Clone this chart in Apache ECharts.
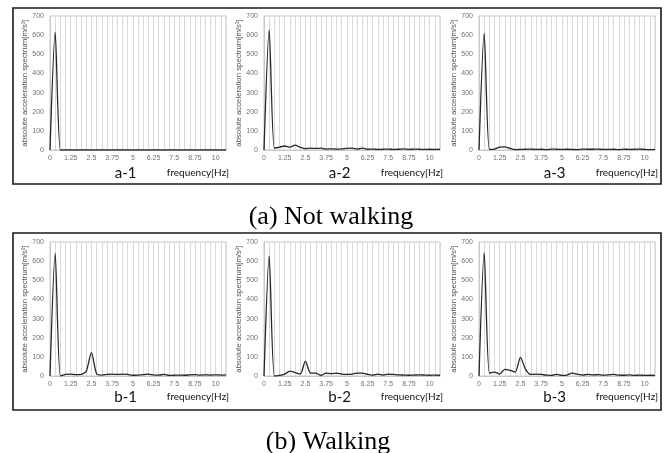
<!DOCTYPE html>
<html>
<head>
<meta charset="utf-8">
<script src="https://cdn.jsdelivr.net/npm/echarts@6/dist/echarts.min.js"></script>
<style>
  html, body { margin: 0; padding: 0; background: #fff; }
  #plot { width: 669px; height: 453px; }
</style>
</head>
<body>
<div id="plot"></div>
<script>
const freqs = [
  "0", "0.3125", "0.625", "0.9375", "1.25", "1.5625", "1.875", "2.1875", "2.5",
  "2.8125", "3.125", "3.4375", "3.75", "4.0625", "4.375", "4.6875", "5",
  "5.3125", "5.625", "5.9375", "6.25", "6.5625", "6.875", "7.1875", "7.5",
  "7.8125", "8.125", "8.4375", "8.75", "9.0625", "9.375", "9.6875", "10",
  "10.3125", "10.625",
];

// not walking
const a1 = [0, 615, 0, 0, 0, 0, 0, 0, 0, 0, 0, 0, 0, 0, 0, 0, 0, 0, 0, 0, 0, 0, 0, 0, 0, 0, 0, 0, 0, 0, 0, 0, 0, 0, 0];
const a2 = [0, 628, 9, 15, 21, 15, 25, 14, 7, 10, 8, 10, 5, 6, 5, 6, 9, 10, 5, 10, 4, 5, 3, 4, 5, 3, 4, 6, 3, 5, 4, 3, 4, 3, 4];
const a3 = [0, 610, 3, 5, 15, 16, 8, 2, 3, 4, 5, 3, 4, 2, 5, 4, 3, 4, 3, 2, 5, 4, 4, 5, 3, 3, 4, 2, 5, 3, 4, 5, 3, 2, 3];

// walking
const b1 = [0, 642, 0, 8, 10, 7, 8, 25, 122, 12, 5, 8, 10, 8, 10, 8, 4, 5, 7, 10, 6, 5, 8, 3, 4, 5, 4, 6, 7, 5, 6, 5, 6, 5, 6];
const b2 = [0, 628, 0, 3, 10, 25, 18, 10, 78, 15, 15, 3, 15, 12, 15, 10, 8, 10, 15, 15, 8, 5, 10, 5, 10, 8, 6, 5, 4, 5, 6, 5, 4, 5, 4];
const b3 = [0, 645, 15, 20, 10, 35, 30, 20, 97, 35, 8, 10, 8, 5, 3, 8, 3, 5, 15, 10, 5, 8, 6, 7, 5, 6, 8, 5, 4, 6, 3, 5, 3, 4, 3];

const panelNames = ["a-1", "a-2", "a-3", "b-1", "b-2", "b-3"];
const panelData = [a1, a2, a3, b1, b2, b3];
const captions = ["(a) Not walking", "(b) Walking"];

const yName = "absolute acceleration spectrum[m/s²]";
const xName = "frequency[Hz]";

// layout of the three columns and two rows
const colLeft = [50, 264, 479];
const colWidth = [176, 176, 176];
const rowTop = [16, 242];
const plotHeight = 134;

const myChart = echarts.init(document.getElementById("plot"));

const grids = [];
const xAxes = [];
const yAxes = [];
const series = [];
const graphics = [];

panelNames.forEach(function (name, i) {
  const col = i % 3;
  const row = Math.floor(i / 3);
  grids.push({
    left: colLeft[col],
    top: rowTop[row],
    width: colWidth[col],
    height: plotHeight,
    show: true,
    borderColor: "#c8c8c8",
    borderWidth: 1,
  });
  xAxes.push({
    gridIndex: i,
    type: "category",
    data: freqs,
    boundaryGap: false,
    axisLine: { lineStyle: { color: "#c8c8c8" } },
    axisTick: { show: false },
    axisLabel: {
      interval: 3,
      color: "#707070",
      fontSize: 7,
      fontFamily: "Liberation Sans",
      margin: 5,
    },
    splitLine: { show: true, interval: 0, lineStyle: { color: "#d9d9d9", width: 1 } },
  });
  yAxes.push({
    gridIndex: i,
    type: "value",
    min: 0,
    max: 700,
    interval: 100,
    name: yName,
    nameLocation: "middle",
    nameGap: 20,
    nameTextStyle: { fontSize: 7.8, color: "#505050", fontFamily: "Liberation Sans" },
    axisLine: { show: true, lineStyle: { color: "#c8c8c8" } },
    axisTick: { show: false },
    axisLabel: { color: "#707070", fontSize: 7, fontFamily: "Liberation Sans", margin: 6 },
    splitLine: { show: false },
  });
  series.push({
    type: "line",
    xAxisIndex: i,
    yAxisIndex: i,
    data: panelData[i],
    smooth: 0.25,
    showSymbol: false,
    lineStyle: { color: "#262626", width: 1.3 },
  });

  const labelY = row === 0 ? 173 : 397;
  graphics.push({
    type: "text",
    x: colLeft[col] + colWidth[col] * 0.43,
    y: labelY,
    style: {
      text: name,
      font: "15px Lato",
      fill: "#111",
      align: "center",
      verticalAlign: "middle",
    },
  });
  graphics.push({
    type: "text",
    x: colLeft[col] + colWidth[col] + 3,
    y: labelY,
    style: {
      text: xName,
      font: "10px Lato",
      fill: "#111",
      align: "right",
      verticalAlign: "middle",
    },
  });
});

// panel frames and captions
graphics.push({
  type: "rect",
  shape: { x: 13, y: 8, width: 648, height: 176 },
  style: { fill: "none", stroke: "#1a1a1a", lineWidth: 1.6 },
});
graphics.push({
  type: "rect",
  shape: { x: 13, y: 233, width: 648, height: 177 },
  style: { fill: "none", stroke: "#1a1a1a", lineWidth: 1.6 },
});
graphics.push({
  type: "text",
  x: 331,
  y: 217,
  style: {
    text: captions[0],
    font: "26px 'Liberation Serif'",
    fill: "#000",
    align: "center",
    verticalAlign: "middle",
  },
});
graphics.push({
  type: "text",
  x: 328,
  y: 442,
  style: {
    text: captions[1],
    font: "26px 'Liberation Serif'",
    fill: "#000",
    align: "center",
    verticalAlign: "middle",
  },
});

myChart.setOption({
  animation: false,
  grid: grids,
  xAxis: xAxes,
  yAxis: yAxes,
  series: series,
  graphic: graphics,
});
</script>
</body>
</html>
